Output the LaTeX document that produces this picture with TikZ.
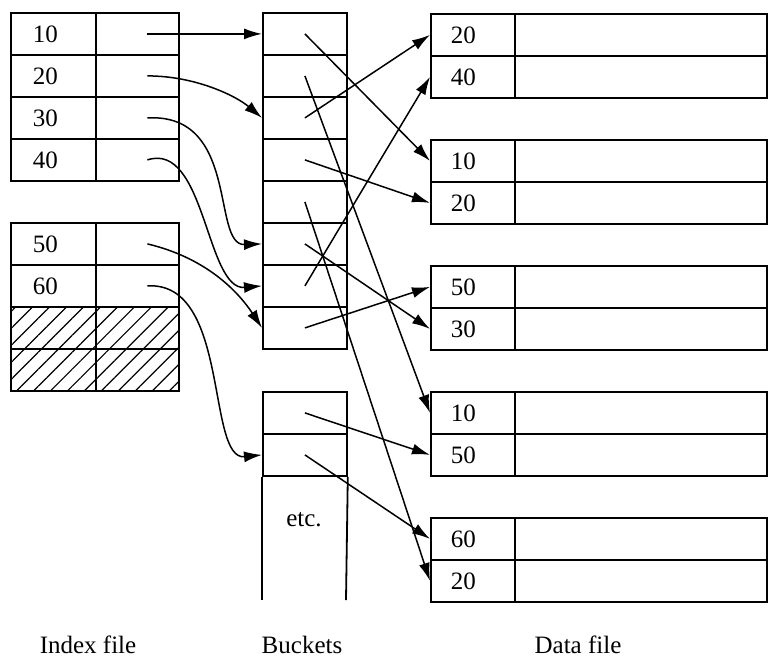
\documentclass[tikz,border=0pt]{standalone}
\usepackage{fontspec}
\setmainfont{Liberation Serif}
\usetikzlibrary{arrows.meta,patterns.meta}
\begin{document}
\begin{tikzpicture}[x=1pt,y=-1pt,
  txt/.style={font=\fontsize{25}{29}\selectfont},
  cell/.style={draw, line width=1.8pt, minimum height=42pt, inner sep=0pt, anchor=north west, txt},
  ikey/.style={cell, text width=41pt, inner xsep=22pt, align=left},
  iptr/.style={cell, minimum width=83pt},
  hatch/.style={cell, pattern={Lines[angle=45,distance=12pt,line width=1.2pt]}},
  bucket/.style={cell, minimum width=84pt},
  dkey/.style={cell, text width=44pt, inner xsep=20pt, align=left},
  dval/.style={cell, minimum width=252pt},
  boxline/.style={line width=1.8pt},
  arr/.style={line width=1.5pt, -{Latex[length=18pt,width=11pt]}},
  lab/.style={txt, inner sep=0pt}]
\useasboundingbox (0,0) rectangle (780,662);
% index file
\foreach \k [count=\i] in {10,20,30,40} {
  \node[ikey] (ik\i) at (10,{12+42*(\i-1)}) {\k};
  \node[iptr] (ip\i) at (95,{12+42*(\i-1)}) {};
}
\node[ikey] (ik5) at (10,222) {50};
\node[iptr] (ip5) at (95,222) {};
\node[ikey] (ik6) at (10,264) {60};
\node[iptr] (ip6) at (95,264) {};
\node[hatch, minimum width=85pt] (h1k) at (10,306) {};
\node[hatch, minimum width=83pt] (h1p) at (95,306) {};
\node[hatch, minimum width=85pt] (h2k) at (10,348) {};
\node[hatch, minimum width=83pt] (h2p) at (95,348) {};
% buckets
\foreach \i in {1,...,8} {
  \node[bucket] (b\i) at (262,{12+42*(\i-1)}) {};
}
\node[bucket] (c1) at (262,391) {};
\node[bucket] (c2) at (262,433) {};
\coordinate (cbl) at (262,600);
\coordinate (cbr) at (346,600);
\draw[boxline] (c2.south west) -- (cbl);
\draw[boxline] (c2.south east) -- (cbr);
\node[lab] (etc) at (304,520) {etc.};
% data file
\foreach \top/\ka/\kb [count=\j] in {13/20/40, 139/10/20, 265/50/30, 391/10/50, 517/60/20} {
  \node[dkey] (d\j-k1) at (430,\top) {\ka};
  \node[dval] (d\j-v1) at (514,\top) {};
  \node[dkey] (d\j-k2) at (430,\top+42) {\kb};
  \node[dval] (d\j-v2) at (514,\top+42) {};
}
% index -> buckets
\draw[arr] ([xshift=10pt]ip1.center) -- (b1.west);
\draw[arr] ([xshift=10pt]ip2.center) .. controls +(48,0) and +(-26,-22) .. (b3.west);
\draw[arr] ([xshift=10pt]ip3.center) .. controls +(93,-5) and +(-51,2) .. (b6.west);
\draw[arr] ([xshift=10pt]ip4.center) .. controls +(58,-19) and +(-56,5) .. (b7.west);
\draw[arr] ([xshift=10pt]ip5.center) .. controls +(63,15) and +(-21,-32) .. (b8.west);
\draw[arr] ([xshift=10pt]ip6.center) .. controls +(83,-5) and +(-56,6) .. (c2.west);
% buckets -> data
\draw[arr] (b1.center) -- (d2-k1.west);
\draw[arr] (b2.center) -- (d4-k1.west);
\draw[arr] (b3.center) -- (d1-k1.west);
\draw[arr] (b4.center) -- (d2-k2.west);
\draw[arr] (b5.center) -- (d5-k2.west);
\draw[arr] (b6.center) -- (d3-k2.west);
\draw[arr] (b7.center) -- (d1-k2.west);
\draw[arr] (b8.center) -- (d3-k1.west);
\draw[arr] (c1.center) -- (d4-k2.west);
\draw[arr] (c2.center) -- (d5-k1.west);
% labels
\node[lab] (lidx) at (88,645) {Index file};
\node[lab] (lbuc) at (302,645) {Buckets};
\node[lab] (ldat) at (578,645) {Data file};
\end{tikzpicture}
\end{document}
